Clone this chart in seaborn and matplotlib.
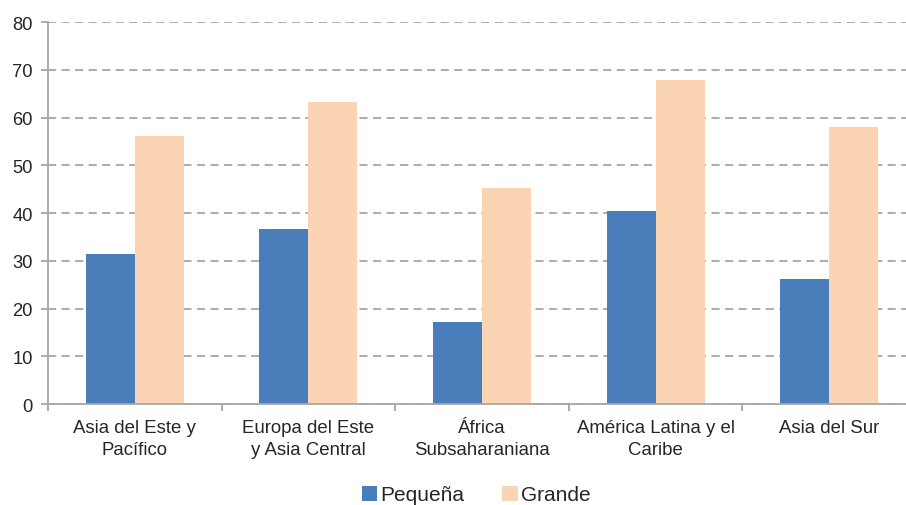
import pandas as pd
import matplotlib.pyplot as plt
import seaborn as sns

# datos
regiones = ["Asia del Este y\nPacífico", "Europa del Este\ny Asia Central", "África\nSubsaharaniana",
            "América Latina y el\nCaribe", "Asia del Sur"]
pequena = [31.4, 36.6, 17.2, 40.4, 26.2]
grande = [56.1, 63.2, 45.2, 67.9, 58.0]

df = pd.DataFrame({"region": regiones * 2,
                   "valor": pequena + grande,
                   "tamano": ["Pequeña"] * 5 + ["Grande"] * 5})

sns.set_style("white")
plt.rcParams["font.family"] = ["Liberation Sans", "DejaVu Sans"]

fig = plt.figure(figsize=(9.06, 5.06), dpi=100)
ax = fig.add_axes([48 / 906, 1 - 405 / 506, 868 / 906, 382 / 506])

sns.barplot(data=df, x="region", y="valor", hue="tamano", ax=ax,
            palette={"Pequeña": "#4A7EBB", "Grande": "#FBD4B4"},
            width=0.565, saturation=1, linewidth=0, zorder=3)

ax.set_ylim(0, 80)
ax.set_xlim(-0.5, 4.5)
ax.set_yticks(range(0, 81, 10))
ax.yaxis.grid(True, linestyle=(0, (4.5, 3)), color="#A6A6A6", linewidth=1.3, zorder=0)
ax.set_xlabel("")
ax.set_ylabel("")

for s in ["top", "right"]:
    ax.spines[s].set_visible(False)
for s in ["left", "bottom"]:
    ax.spines[s].set_color("#A6A6A6")
    ax.spines[s].set_linewidth(1.3)
ax.spines["bottom"].set_zorder(4)

ax.set_xticks([-0.5, 0.5, 1.5, 2.5, 3.5, 4.5], minor=True)
ax.tick_params(axis="x", which="major", length=0, labelsize=13.4, colors="#262626", pad=11)
ax.tick_params(axis="x", which="minor", length=5, width=1.3, color="#A6A6A6", direction="out")
ax.tick_params(axis="y", length=5, width=1.3, color="#A6A6A6", labelsize=13.2, labelcolor="#262626", pad=6)
ax.tick_params(axis="both", left=True, bottom=True, which="both")
for t in ax.get_xticklabels():
    t.set_linespacing(1.35)

ax.legend(loc="center", bbox_to_anchor=(476 / 906, 1 - 496 / 506), bbox_transform=fig.transFigure,
          ncol=2, frameon=False, fontsize=15, handlelength=0.75, handleheight=0.75,
          handletextpad=0.15, columnspacing=1.8, borderaxespad=0, borderpad=0)

plt.savefig("out.png", dpi=100)
